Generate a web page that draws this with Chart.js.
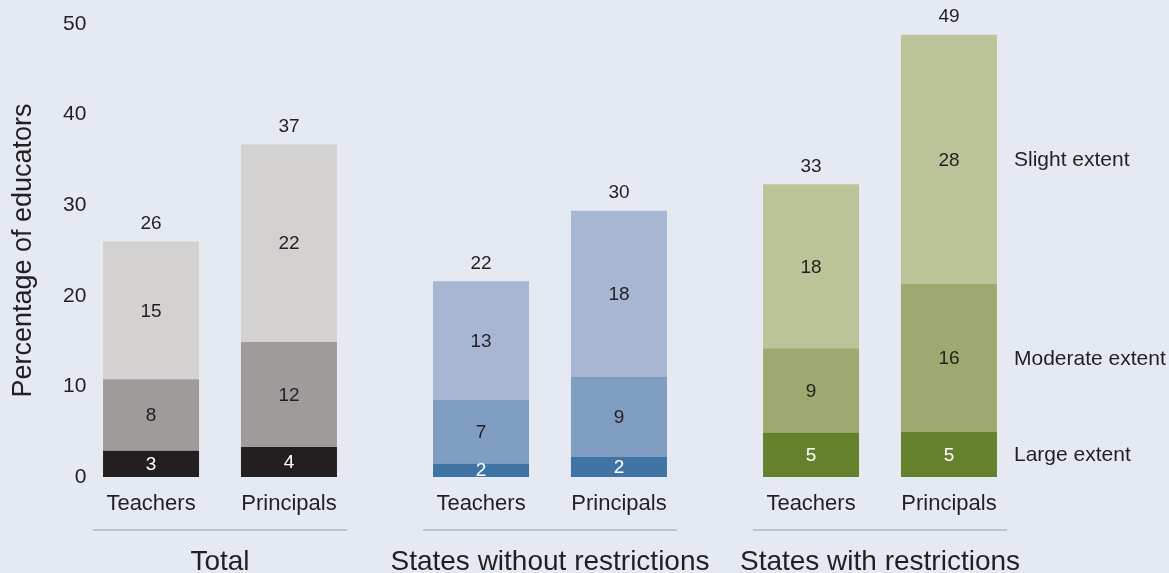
<!DOCTYPE html>
<html>
<head>
<meta charset="utf-8">
<script src="https://cdn.jsdelivr.net/npm/chart.js@4"></script>
<style>
  html, body { margin: 0; padding: 0; background: #e5e9f2; }
  #wrap { width: 1169px; height: 573px; }
</style>
</head>
<body>
<div id="wrap"><canvas id="bar-chart" width="1169" height="573"></canvas></div>
<script>
// groups and roles
var groups = ['Total', 'States without restrictions', 'States with restrictions'];
var roles = ['Teachers', 'Principals'];
var extents = ['Large extent', 'Moderate extent', 'Slight extent'];

// bar heights (percent)
var teachersLarge = [2.9, 1.5, 4.9];
var teachersModerate = [7.9, 7.0, 9.3];
var teachersSlight = [15.2, 13.1, 18.1];
var principalsLarge = [3.3, 2.2, 5.0];
var principalsModerate = [11.6, 8.9, 16.3];
var principalsSlight = [21.8, 18.3, 27.5];

// printed numbers
var teachersLargeText = [3, 2, 5];
var teachersModerateText = [8, 7, 9];
var teachersSlightText = [15, 13, 18];
var principalsLargeText = [4, 2, 5];
var principalsModerateText = [12, 9, 16];
var principalsSlightText = [22, 18, 28];
var teachersTotal = [26, 22, 33];
var principalsTotal = [37, 30, 49];

// colours per group: dark, mid, light
var darkColors = ['#231f20', '#4074a4', '#66812b'];
var midColors = ['#9f9b9b', '#809dc2', '#9caa6f'];
var lightColors = ['#d3d2d0', '#a7b7d3', '#bac498'];

var FONT = '"Liberation Sans", Arial, sans-serif';
var TEXT = '#231f20';

function ds(label, stack, data, colors, text) {
  return { label: label, stack: stack, data: data, backgroundColor: colors, text: text, borderWidth: 0 };
}

//labels drawn on top of bars
var labelPlugin = {
  id: 'labels',
  afterDatasetsDraw: function(chart) {
    var ctx = chart.ctx;
    var area = chart.chartArea;
    ctx.save();
    ctx.textAlign = 'center';
    ctx.textBaseline = 'middle';
    chart.data.datasets.forEach(function(d, i) {
      var meta = chart.getDatasetMeta(i);
      meta.data.forEach(function(bar, j) {
        ctx.font = '19px ' + FONT;
        ctx.fillStyle = d.label === 'Large extent' ? '#ffffff' : TEXT;
        ctx.fillText(String(d.text[j]), bar.x, (bar.y + bar.base) / 2 + 1);
      });
    });
    // totals, role names, separators
    var tMeta = chart.getDatasetMeta(2), pMeta = chart.getDatasetMeta(5);
    for (var j = 0; j < groups.length; j++) {
      var tb = tMeta.data[j], pb = pMeta.data[j];
      ctx.font = '19px ' + FONT;
      ctx.fillStyle = TEXT;
      ctx.fillText(String(teachersTotal[j]), tb.x, tb.y - 18);
      ctx.fillText(String(principalsTotal[j]), pb.x, pb.y - 18);
      ctx.font = '22px ' + FONT;
      ctx.fillText(roles[0], tb.x, area.bottom + 27);
      ctx.fillText(roles[1], pb.x, area.bottom + 27);
      ctx.strokeStyle = '#b3b5bb';
      ctx.lineWidth = 1.5;
      ctx.beginPath();
      ctx.moveTo(tb.x - tb.width / 2 - 10, area.bottom + 53);
      ctx.lineTo(pb.x + pb.width / 2 + 10, area.bottom + 53);
      ctx.stroke();
    }
    // extent names next to the last bar
    ctx.textAlign = 'left';
    ctx.font = '21px ' + FONT;
    ctx.fillStyle = TEXT;
    for (var k = 0; k < 3; k++) {
      var b = chart.getDatasetMeta(3 + k).data[groups.length - 1];
      ctx.fillText(extents[k], b.x + b.width / 2 + 17, (b.y + b.base) / 2 + 1);
    }
    ctx.restore();
  }
};

var chart = new Chart(document.getElementById('bar-chart'), {
  type: 'bar',
  data: {
    labels: groups,
    datasets: [
      ds(extents[0], 'T', teachersLarge, darkColors, teachersLargeText),
      ds(extents[1], 'T', teachersModerate, midColors, teachersModerateText),
      ds(extents[2], 'T', teachersSlight, lightColors, teachersSlightText),
      ds(extents[0], 'P', principalsLarge, darkColors, principalsLargeText),
      ds(extents[1], 'P', principalsModerate, midColors, principalsModerateText),
      ds(extents[2], 'P', principalsSlight, lightColors, principalsSlightText)
    ]
  },
  options: {
    responsive: false,
    animation: false,
    categoryPercentage: 0.836,
    barPercentage: 0.696,
    layout: { padding: { top: 24, right: 124, bottom: 0, left: 0 } },
    plugins: { legend: { display: false }, tooltip: { enabled: false } },
    scales: {
      x: {
        afterFit: function(scale) { scale.height = 96; },
        grid: { display: false, drawTicks: false },
        border: { display: false },
        ticks: { autoSkip: false, maxRotation: 0, padding: 68, color: TEXT, font: { family: FONT, size: 28 } }
      },
      y: {
        stacked: true,
        min: 0, max: 50,
        afterFit: function(scale) { scale.width = 55; },
        grid: { display: false, drawTicks: false },
        border: { display: false },
        ticks: {
          stepSize: 10, mirror: true, padding: 8, color: TEXT, font: { family: FONT, size: 21 },
          // figure space keeps single digits right aligned
          callback: function(v) { return v < 10 ? '\u2007' + v : String(v); }
        },
        title: { display: true, text: 'Percentage of educators', color: TEXT, padding: { top: 7 }, font: { family: FONT, size: 27 } }
      }
    }
  },
  plugins: [labelPlugin]
});
</script>
</body>
</html>
